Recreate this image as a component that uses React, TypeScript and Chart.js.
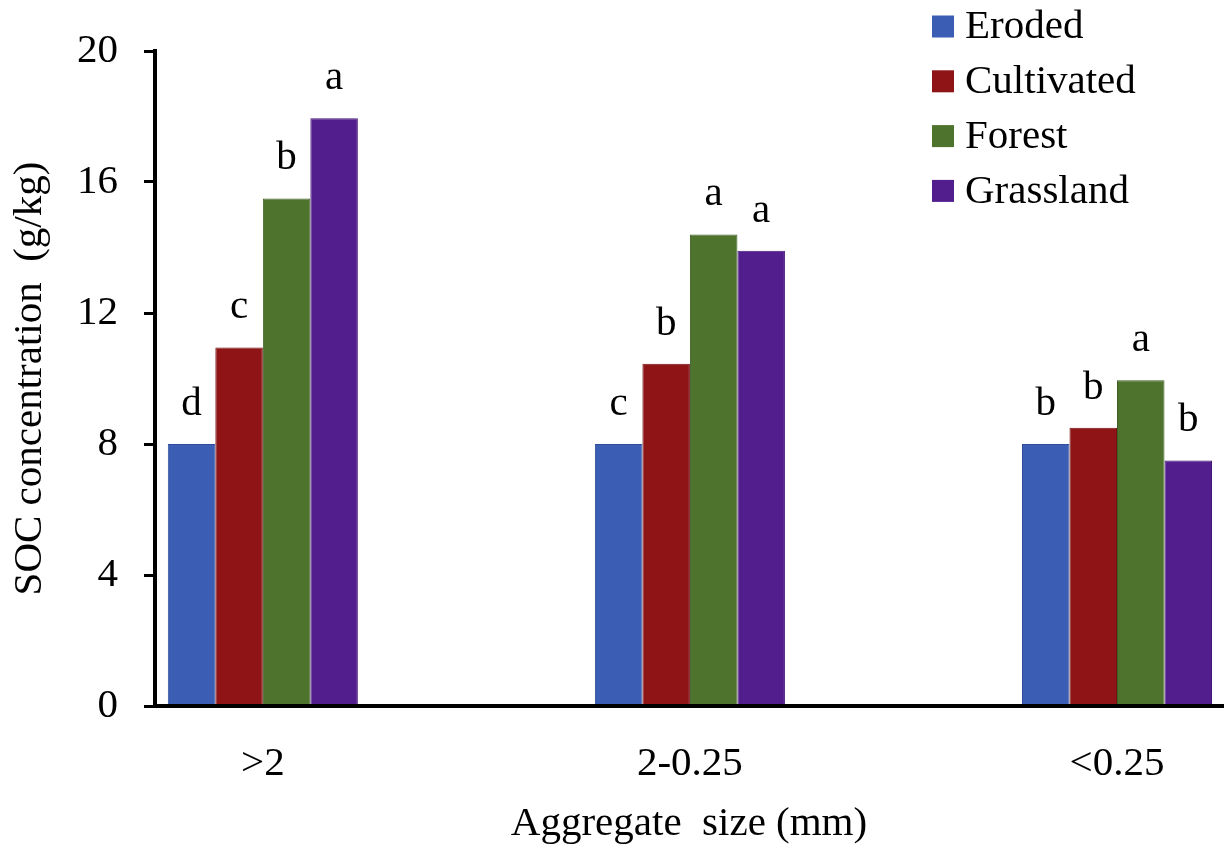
import React, { useEffect, useRef } from "react";
import { Chart, registerables } from "chart.js";

Chart.register(...registerables);

// ---- data ----
const categories = [">2", "2-0.25", "<0.25"];
const seriesNames = ["Eroded", "Cultivated", "Forest", "Grassland"];
const eroded = [8.0, 8.0, 8.0];
const cultivated = [10.95, 10.45, 8.5];
const forest = [15.5, 14.4, 9.95];
const grassland = [17.95, 13.9, 7.5];
const erodedLetters = ["d", "c", "b"];
const cultivatedLetters = ["c", "b", "b"];
const forestLetters = ["b", "a", "a"];
const grasslandLetters = ["a", "a", "b"];
const yTickValues = [0, 4, 8, 12, 16, 20];
const yTitle = "SOC concentration  (g/kg)";
const xTitle = "Aggregate  size (mm)";

// ---- styles ----
const FONT = "'Liberation Serif', 'Times New Roman', Times, serif";
const fillColors = ["#3B5DB4", "#8E1416", "#4E732D", "#521D8D"];
const edgeColors = ["#2F4D9A", "#761012", "#3F5F24", "#431775"];

const seriesValues = [eroded, cultivated, forest, grassland];
const seriesLetters = [erodedLetters, cultivatedLetters, forestLetters, grasslandLetters];

const letterPlugin = {
  id: "letterPlugin",
  afterDatasetsDraw(chart: any) {
    const ctx = chart.ctx;
    ctx.save();
    ctx.font = `41px ${FONT}`;
    ctx.fillStyle = "#000";
    ctx.textAlign = "center";
    ctx.textBaseline = "alphabetic";
    chart.data.datasets.forEach((ds: any, di: number) => {
      const meta = chart.getDatasetMeta(di);
      meta.data.forEach((bar: any, i: number) => {
        const letter = seriesLetters[di][i];
        ctx.fillText(letter, bar.x, bar.y - 29);
      });
    });
    ctx.restore();
  },
};

const legendPlugin = {
  id: "legendPlugin",
  afterDraw(chart: any) {
    const ctx = chart.ctx;
    const boxX = chart.width - 293;
    const firstY = 26.5;
    const rowGap = 54.8;
    const box = 22;
    ctx.save();
    ctx.font = `41px ${FONT}`;
    ctx.textAlign = "left";
    ctx.textBaseline = "middle";
    chart.data.datasets.forEach((ds: any, di: number) => {
      const cy = firstY + di * rowGap;
      ctx.fillStyle = ds.backgroundColor;
      ctx.fillRect(boxX, cy - box / 2, box, box);
      ctx.fillStyle = "#000";
      ctx.fillText(ds.label, boxX + 33, cy + 1);
    });
    ctx.restore();
  },
};

export default function App() {
  const canvasRef = useRef<HTMLCanvasElement | null>(null);

  useEffect(() => {
    document.body.style.margin = "0";
    const canvas = canvasRef.current;
    if (!canvas) return;

    const datasets = seriesNames.map((name, di) => ({
      label: name,
      data: seriesValues[di].map((v, i) => ({ x: i, y: v })),
      backgroundColor: fillColors[di],
      borderColor: edgeColors[di],
      borderWidth: 1,
      categoryPercentage: 0.445,
      barPercentage: 1.0,
    }));

    const chart = new Chart(canvas, {
      type: "bar",
      data: { datasets },
      options: {
        animation: false,
        responsive: false,
        devicePixelRatio: 1,
        layout: { padding: { top: 51, right: 2, bottom: 0, left: 0 } },
        plugins: {
          legend: { display: false },
          tooltip: { enabled: false },
          title: { display: false },
        },
        scales: {
          x: {
            type: "linear",
            offset: false,
            min: -0.2525,
            max: 2.2482,
            afterBuildTicks: (scale: any) => {
              scale.ticks = categories.map((_, i) => ({ value: i }));
            },
            afterFit: (scale: any) => {
              scale.height = 146;
            },
            grid: { display: false, offset: false },
            border: { display: true, color: "#000", width: 4, z: 1 },
            ticks: {
              autoSkip: false,
              maxRotation: 0,
              padding: 26,
              color: "#000",
              font: { family: FONT, size: 41, lineHeight: 1.2 },
              callback: (value: any) => categories[Math.round(Number(value))] ?? "",
            },
            title: {
              display: true,
              text: xTitle,
              color: "#000",
              font: { family: FONT, size: 41, lineHeight: 1.2 },
              padding: { top: 0, bottom: 3 },
            },
          },
          y: {
            type: "linear",
            min: 0,
            max: 20,
            afterBuildTicks: (scale: any) => {
              scale.ticks = yTickValues.map((v) => ({ value: v }));
            },
            afterFit: (scale: any) => {
              scale.width = 155;
            },
            grid: {
              display: true,
              drawOnChartArea: false,
              drawTicks: true,
              tickLength: 11,
              color: "#000",
              lineWidth: 3,
            },
            border: { display: true, color: "#000", width: 4, z: 1 },
            ticks: {
              padding: 26,
              color: "#000",
              font: { family: FONT, size: 41, lineHeight: 1.2 },
            },
            title: {
              display: true,
              text: yTitle,
              color: "#000",
              font: { family: FONT, size: 41, lineHeight: 1.2 },
              padding: { top: 6, bottom: 0 },
            },
          },
        },
      } as any,
      plugins: [letterPlugin, legendPlugin],
    });

    return () => {
      chart.destroy();
    };
  }, []);

  return (
    <div style={{ width: 1225, height: 852, background: "#fff", position: "relative" }}>
      <style>{`body{margin:0;background:#fff;}`}</style>
      <canvas ref={canvasRef} width={1225} height={852} style={{ display: "block", width: 1225, height: 852 }} />
    </div>
  );
}
